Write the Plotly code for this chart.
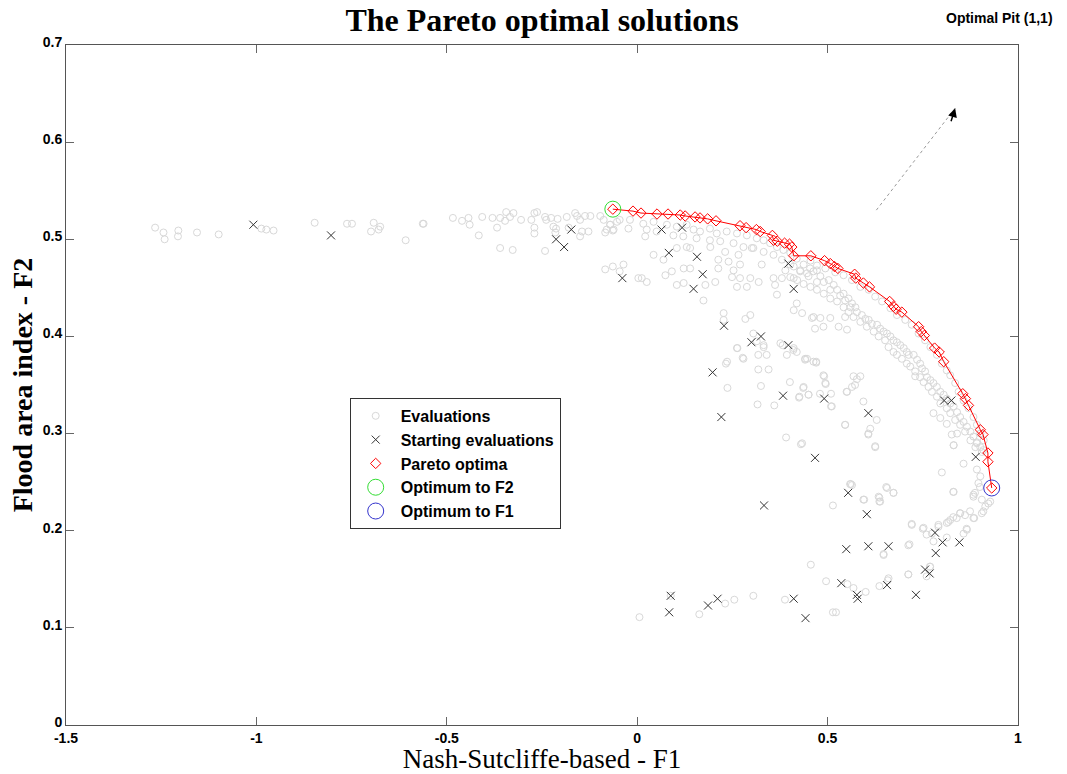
import plotly.graph_objects as go

# ---------------- data ----------------
eval_pts = [
    # left tail
    (-1.266, 0.512), (-1.244, 0.507), (-1.241, 0.500), (-1.205, 0.509), (-1.206, 0.503),
    (-1.156, 0.507), (-1.099, 0.505), (-0.987, 0.511), (-0.974, 0.510), (-0.955, 0.509),
    (-0.847, 0.517), (-0.762, 0.516), (-0.749, 0.516), (-0.692, 0.517), (-0.699, 0.508),
    (-0.679, 0.510), (-0.675, 0.513), (-0.608, 0.499), (-0.563, 0.516),
    # upper left cluster
    (-0.561, 0.516), (-0.484, 0.522), (-0.460, 0.519), (-0.443, 0.522), (-0.440, 0.515),
    (-0.407, 0.523), (-0.416, 0.504), (-0.380, 0.522), (-0.360, 0.522), (-0.344, 0.528),
    (-0.347, 0.519), (-0.334, 0.523), (-0.325, 0.527), (-0.305, 0.520), (-0.368, 0.512),
    (-0.360, 0.491), (-0.327, 0.489), (-0.278, 0.520), (-0.270, 0.527), (-0.263, 0.528),
    (-0.270, 0.512), (-0.270, 0.506), (-0.242, 0.523), (-0.239, 0.520), (-0.226, 0.522),
    (-0.220, 0.513), (-0.213, 0.511), (-0.209, 0.521), (-0.215, 0.507), (-0.242, 0.488),
    (-0.185, 0.523), (-0.180, 0.512), (-0.163, 0.527), (-0.158, 0.524), (-0.150, 0.520),
    (-0.145, 0.508), (-0.150, 0.503), (-0.137, 0.524), (-0.128, 0.508), (-0.123, 0.524),
    (-0.097, 0.524), (-0.084, 0.507), (-0.071, 0.515), (-0.064, 0.509), (-0.046, 0.520),
    (-0.023, 0.511), (-0.084, 0.469), (-0.064, 0.472), (-0.036, 0.474), (-0.046, 0.467),
    (0.003, 0.460),
    # middle region
    (-0.080, 0.510), (-0.062, 0.510), (-0.071, 0.515), (0.012, 0.460), (0.025, 0.456),
    (0.021, 0.503), (0.043, 0.484), (0.069, 0.479), (0.074, 0.463), (0.091, 0.467),
    (0.104, 0.453), (0.122, 0.455), (0.104, 0.491), (0.130, 0.492), (0.139, 0.491),
    (0.122, 0.470), (0.139, 0.470), (0.174, 0.437), (0.179, 0.453), (0.205, 0.456),
    (0.192, 0.492), (0.213, 0.479), (0.213, 0.470), (0.231, 0.487), (0.240, 0.477),
    (0.253, 0.468), (0.249, 0.461), (0.270, 0.460), (0.297, 0.460), (0.319, 0.456),
    (0.262, 0.451), (0.288, 0.451), (0.227, 0.424), (0.227, 0.417), (0.297, 0.422),
    (0.284, 0.418), (0.262, 0.388), (0.279, 0.377), (0.305, 0.403), (0.314, 0.395),
    (0.332, 0.389), (0.340, 0.381), (0.266, 0.484), (0.270, 0.474), (0.327, 0.474),
    (0.301, 0.491), (0.358, 0.460), (0.362, 0.453), (0.380, 0.460), (0.389, 0.468),
    (0.367, 0.443), (0.411, 0.460), (0.419, 0.434), (0.433, 0.424), (0.463, 0.420),
    (0.467, 0.408), (0.376, 0.393), (0.411, 0.388), (0.419, 0.384), (0.441, 0.377),
    (0.463, 0.374), (0.236, 0.374),
    # right middle
    (0.411, 0.427), (0.459, 0.419), (0.481, 0.419), (0.489, 0.410), (0.507, 0.419),
    (0.529, 0.410), (0.546, 0.420), (0.551, 0.407), (0.446, 0.377), (0.470, 0.374),
    (0.489, 0.360), (0.494, 0.352), (0.437, 0.348), (0.450, 0.340), (0.426, 0.338),
    (0.511, 0.328), (0.568, 0.359), (0.586, 0.359), (0.564, 0.348), (0.551, 0.343),
    (0.594, 0.333), (0.629, 0.314), (0.612, 0.305), (0.607, 0.299), (0.625, 0.287),
    (0.546, 0.309), (0.433, 0.290), (0.730, 0.359), (0.778, 0.321), (0.796, 0.316),
    (0.813, 0.310), (0.831, 0.288), (0.840, 0.300),
    # dense band below the front (upper part)
    (-0.088, 0.520), (-0.053, 0.518), (-0.019, 0.520), (0.016, 0.516), (0.043, 0.518),
    (0.078, 0.515), (0.104, 0.513), (0.130, 0.515), (0.148, 0.510), (0.165, 0.508),
    (0.191, 0.511), (0.209, 0.506), (0.235, 0.508), (0.262, 0.506), (0.288, 0.504),
    (0.314, 0.501), (0.332, 0.499), (0.349, 0.496), (0.367, 0.492), (0.384, 0.489),
    (0.402, 0.486), (0.419, 0.480), (0.437, 0.474), (0.454, 0.470), (0.472, 0.468),
    (0.025, 0.510), (0.051, 0.508), (0.095, 0.504), (0.121, 0.503), (0.156, 0.501),
    (0.191, 0.499), (0.218, 0.498), (0.253, 0.496), (0.279, 0.492), (0.305, 0.491),
    (0.332, 0.487), (0.358, 0.484), (0.380, 0.479), (0.402, 0.474), (0.428, 0.467),
    (0.450, 0.462), (0.472, 0.456),
    # dense band (right part)
    (0.411, 0.472), (0.428, 0.468), (0.446, 0.465), (0.463, 0.467), (0.481, 0.462),
    (0.490, 0.456), (0.503, 0.458), (0.516, 0.453), (0.507, 0.448), (0.525, 0.448),
    (0.533, 0.442), (0.542, 0.444), (0.546, 0.437), (0.555, 0.439), (0.564, 0.434),
    (0.573, 0.430), (0.560, 0.430), (0.577, 0.425), (0.590, 0.422), (0.599, 0.418),
    (0.608, 0.417), (0.616, 0.413), (0.630, 0.412), (0.638, 0.408), (0.647, 0.405),
    (0.656, 0.403), (0.665, 0.400), (0.673, 0.396), (0.682, 0.394), (0.691, 0.391),
    (0.700, 0.388), (0.708, 0.384), (0.713, 0.381), (0.726, 0.381), (0.735, 0.376),
    (0.743, 0.372), (0.748, 0.367), (0.756, 0.364), (0.761, 0.358), (0.770, 0.355),
    (0.778, 0.352), (0.787, 0.348), (0.796, 0.343), (0.805, 0.340), (0.813, 0.336),
    (0.822, 0.331), (0.831, 0.328), (0.840, 0.322), (0.848, 0.317), (0.857, 0.312),
    (0.866, 0.307), (0.875, 0.302), (0.883, 0.297), (0.892, 0.291), (0.901, 0.286),
    (0.905, 0.281),
    (0.455, 0.478), (0.472, 0.473), (0.494, 0.470), (0.520, 0.466), (0.542, 0.463),
    (0.564, 0.458), (0.586, 0.451), (0.608, 0.448), (0.625, 0.441), (0.643, 0.436),
    (0.665, 0.429), (0.682, 0.422), (0.704, 0.417), (0.721, 0.412), (0.739, 0.403),
    (0.756, 0.396), (0.770, 0.389), (0.787, 0.381), (0.800, 0.372), (0.813, 0.365),
    (0.822, 0.360), (0.835, 0.352), (0.844, 0.343), (0.857, 0.334), (0.870, 0.326),
    (0.883, 0.317), (0.892, 0.309), (0.901, 0.300), (0.910, 0.293),
    (0.402, 0.461), (0.420, 0.458), (0.437, 0.454), (0.455, 0.451), (0.472, 0.448),
    (0.490, 0.444), (0.507, 0.439), (0.525, 0.436), (0.542, 0.430), (0.555, 0.425),
    (0.568, 0.420), (0.586, 0.415), (0.603, 0.410), (0.621, 0.405), (0.634, 0.400),
    (0.651, 0.396), (0.660, 0.389), (0.673, 0.384), (0.682, 0.381), (0.695, 0.377),
    (0.708, 0.372), (0.717, 0.369), (0.730, 0.364), (0.743, 0.358), (0.752, 0.353),
    (0.765, 0.348), (0.774, 0.343), (0.787, 0.338), (0.796, 0.331), (0.813, 0.326),
    (0.822, 0.321), (0.835, 0.314), (0.848, 0.309), (0.861, 0.302), (0.875, 0.293),
    (0.888, 0.286),
    # lower right
    (0.607, 0.300), (0.625, 0.286), (0.826, 0.299), (0.831, 0.288), (0.857, 0.269),
    (0.800, 0.260), (0.892, 0.263), (0.901, 0.256), (0.896, 0.249), (0.887, 0.239),
    (0.883, 0.235), (0.905, 0.232), (0.914, 0.225), (0.927, 0.230), (0.905, 0.218),
    (0.874, 0.220), (0.861, 0.216), (0.848, 0.218), (0.839, 0.213), (0.822, 0.211),
    (0.813, 0.208), (0.831, 0.240), (0.885, 0.213), (0.866, 0.201), (0.564, 0.247),
    (0.594, 0.232), (0.634, 0.235), (0.656, 0.244), (0.673, 0.239), (0.638, 0.230),
    (0.721, 0.206), (0.752, 0.203), (0.791, 0.204), (0.774, 0.197), (0.712, 0.185),
    (0.647, 0.175), (0.769, 0.163), (0.712, 0.155), (0.660, 0.151), (0.901, 0.300),
    (0.892, 0.290), (0.909, 0.283),
    (0.559, 0.248), (0.514, 0.226), (0.596, 0.232), (0.636, 0.234), (0.636, 0.230),
    (0.654, 0.245), (0.673, 0.239), (0.721, 0.207), (0.750, 0.202), (0.760, 0.196),
    (0.778, 0.189), (0.791, 0.206), (0.813, 0.193), (0.817, 0.209), (0.830, 0.214),
    (0.848, 0.218), (0.857, 0.197), (0.865, 0.202), (0.883, 0.213), (0.830, 0.240),
    (0.883, 0.237), (0.900, 0.245), (0.909, 0.220), (0.922, 0.228), (0.715, 0.186),
    (0.647, 0.176), (0.769, 0.163), (0.712, 0.155), (0.760, 0.153), (0.456, 0.165),
    (0.496, 0.148), (0.552, 0.145), (0.568, 0.141), (0.600, 0.137), (0.636, 0.143),
    (0.658, 0.149), (0.305, 0.133), (0.255, 0.129), (0.231, 0.125), (0.388, 0.129),
    (0.514, 0.116), (0.522, 0.116), (0.163, 0.114), (0.006, 0.111), (0.088, 0.133),
    # centre
    (0.263, 0.388), (0.277, 0.378), (0.233, 0.372), (0.318, 0.381), (0.318, 0.366),
    (0.345, 0.366), (0.332, 0.391), (0.382, 0.391), (0.393, 0.381), (0.410, 0.386),
    (0.441, 0.376), (0.470, 0.373), (0.491, 0.359), (0.495, 0.351), (0.401, 0.353),
    (0.436, 0.347), (0.450, 0.340), (0.425, 0.337), (0.480, 0.341), (0.509, 0.341),
    (0.509, 0.328), (0.550, 0.343), (0.572, 0.350), (0.577, 0.356), (0.325, 0.349),
    (0.237, 0.347), (0.316, 0.330), (0.360, 0.329), (0.546, 0.309), (0.391, 0.296),
    (0.430, 0.289), (0.561, 0.248),
]
eval_x = [p[0] for p in eval_pts]
eval_y = [p[1] for p in eval_pts]

start_x = [-1.008, -0.804, -0.213, -0.173, -0.192, -0.039, 0.064, 0.118, 0.083, 0.157,
           0.172, 0.148, 0.397, 0.411, 0.228, 0.300, 0.325, 0.397, 0.198, 0.383,
           0.491, 0.221, 0.607, 0.806, 0.825, 0.467, 0.889, 0.554, 0.333, 0.603,
           0.782, 0.802, 0.846, 0.784, 0.549, 0.607, 0.660, 0.756, 0.768, 0.536,
           0.656, 0.732, 0.577, 0.579, 0.088, 0.084, 0.211, 0.186, 0.411, 0.442]
start_y = [0.515, 0.504, 0.500, 0.510, 0.492, 0.460, 0.510, 0.512, 0.486, 0.482,
           0.464, 0.449, 0.475, 0.449, 0.411, 0.394, 0.400, 0.391, 0.363, 0.339,
           0.336, 0.317, 0.321, 0.334, 0.334, 0.275, 0.276, 0.239, 0.226, 0.217,
           0.198, 0.188, 0.188, 0.177, 0.181, 0.184, 0.184, 0.160, 0.156, 0.146,
           0.144, 0.134, 0.134, 0.130, 0.133, 0.116, 0.130, 0.123, 0.130, 0.110]

pareto_x = [-0.064, -0.011, 0.010, 0.052, 0.081, 0.113, 0.126, 0.152, 0.165, 0.185,
            0.207, 0.270, 0.286, 0.313, 0.323, 0.355, 0.358, 0.368, 0.387, 0.400,
            0.406, 0.411, 0.456, 0.492, 0.507, 0.518, 0.527, 0.571, 0.574, 0.594,
            0.610, 0.663, 0.673, 0.680, 0.695, 0.739, 0.746, 0.754, 0.781, 0.793,
            0.805, 0.855, 0.862, 0.870, 0.901, 0.908, 0.921, 0.921, 0.931]
pareto_y = [0.531, 0.529, 0.527, 0.526, 0.526, 0.525, 0.524, 0.523, 0.522, 0.521,
            0.519, 0.514, 0.512, 0.510, 0.508, 0.504, 0.499, 0.498, 0.496, 0.495,
            0.492, 0.483, 0.483, 0.478, 0.475, 0.472, 0.470, 0.464, 0.460, 0.455,
            0.451, 0.436, 0.431, 0.428, 0.425, 0.410, 0.405, 0.401, 0.388, 0.384,
            0.374, 0.341, 0.336, 0.329, 0.304, 0.299, 0.280, 0.271, 0.244]

opt_f2 = (-0.064, 0.531)
opt_f1 = (0.931, 0.244)
arrow_start = (0.628, 0.530)
arrow_end = (0.835, 0.635)

x_ticks = [-1.5, -1, -0.5, 0, 0.5, 1]
x_ticktext = ["-1.5", "-1", "-0.5", "0", "0.5", "1"]
y_ticks = [0, 0.1, 0.2, 0.3, 0.4, 0.5, 0.6, 0.7]
y_ticktext = ["0", "0.1", "0.2", "0.3", "0.4", "0.5", "0.6", "0.7"]

# ---------------- figure ----------------
fig = go.Figure()
fig.add_trace(go.Scatter(
    x=eval_x, y=eval_y, mode="markers", name="Evaluations",
    marker=dict(symbol="circle-open", size=7, color="#d8d8d8", line=dict(width=1))))
fig.add_trace(go.Scatter(
    x=start_x, y=start_y, mode="markers", name="Starting evaluations",
    marker=dict(symbol="x-thin-open", size=8, color="#333333", line=dict(width=1, color="#333333"))))
fig.add_trace(go.Scatter(
    x=pareto_x, y=pareto_y, mode="lines", showlegend=False,
    line=dict(color="red", width=1)))
fig.add_trace(go.Scatter(
    x=pareto_x, y=pareto_y, mode="markers", name="Pareto optima",
    marker=dict(symbol="diamond-open", size=8, color="red", line=dict(width=1))))
fig.add_trace(go.Scatter(
    x=[opt_f2[0]], y=[opt_f2[1]], mode="markers", name="Optimum to F2",
    marker=dict(symbol="circle-open", size=16, color="#33dd33", line=dict(width=1))))
fig.add_trace(go.Scatter(
    x=[opt_f1[0]], y=[opt_f1[1]], mode="markers", name="Optimum to F1",
    marker=dict(symbol="circle-open", size=16, color="#3333cc", line=dict(width=1))))

# dotted arrow toward optimal point
fig.add_shape(type="line", xref="x", yref="y",
              x0=arrow_start[0], y0=arrow_start[1], x1=arrow_end[0], y1=arrow_end[1],
              line=dict(color="#999999", width=1, dash="dot"))
fig.add_annotation(x=arrow_end[0], y=arrow_end[1], xref="x", yref="y",
                   ax=arrow_end[0] - 0.012, ay=arrow_end[1] - 0.015, axref="x", ayref="y",
                   text="", showarrow=True, arrowhead=2, arrowsize=1.2, arrowwidth=1.5,
                   arrowcolor="black")
fig.add_annotation(x=0.981, y=1.04, xref="paper", yref="paper", xanchor="center",
                   yanchor="middle", text="<b>Optimal Pit (1,1)</b>",
                   showarrow=False, font=dict(family="Liberation Sans, Arial", size=14, color="black"))

axis_common = dict(showline=True, linecolor="#555555", linewidth=1, mirror="ticks",
                   ticks="inside", ticklen=8, tickcolor="#666666", showgrid=False,
                   zeroline=False,
                   tickfont=dict(family="Liberation Sans, Arial", size=14, color="black",
                                 weight="bold"))

fig.update_layout(
    width=1067, height=774,
    margin=dict(l=66, r=49, t=45, b=49),
    paper_bgcolor="white", plot_bgcolor="white",
    title=dict(text="<b>The Pareto optimal solutions</b>", x=0.5, xref="paper",
               y=1 - 20 / 774, yanchor="middle",
               font=dict(family="Liberation Serif, DejaVu Serif", size=32, color="black")),
    xaxis=dict(range=[-1.5, 1], tickvals=x_ticks, ticktext=x_ticktext,
               title=dict(text="Nash-Sutcliffe-based - F1", standoff=4,
                          font=dict(family="Liberation Serif, DejaVu Serif", size=27, color="black")),
               automargin=False, **axis_common),
    yaxis=dict(range=[0, 0.7], tickvals=y_ticks, ticktext=y_ticktext, ticklabelshift=-3,
               title=dict(text="<b>Flood area index - F2</b>", standoff=1,
                          font=dict(family="Liberation Serif, DejaVu Serif", size=28, color="black")),
               automargin=False, **axis_common),
    legend=dict(x=0.298, y=0.481, xanchor="left", yanchor="top",
                bgcolor="white", bordercolor="#333333", borderwidth=1,
                font=dict(family="Liberation Sans, Arial", size=16, color="black", weight="bold"),
                tracegroupgap=0, itemsizing="trace", itemwidth=40),
    showlegend=True,
)

fig.write_html("out.html")
